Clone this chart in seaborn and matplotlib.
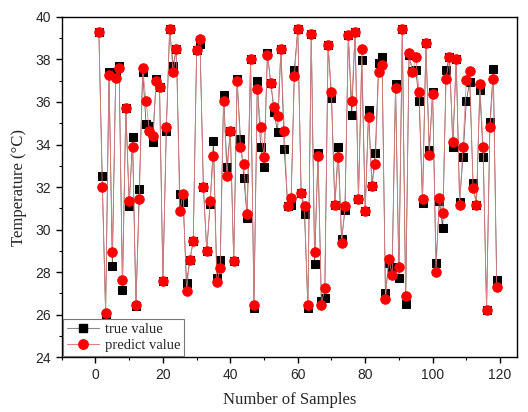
import numpy as np
import pandas as pd
import matplotlib
matplotlib.use("Agg")
import matplotlib.pyplot as plt
import seaborn as sns
from matplotlib.lines import Line2D

samples = list(range(1, 120))
true_value = [
    39.28, 32.52, 26.00, 37.40, 28.28, 37.40, 37.71, 27.16, 35.72, 31.11,
    34.36, 26.40, 31.92, 37.43, 34.96, 34.88, 34.14, 37.08, 36.72, 27.57,
    34.65, 39.44, 37.71, 38.50, 31.66, 31.31, 27.49, 28.59, 29.46, 38.45,
    38.73, 32.02, 28.99, 31.19, 34.17, 27.73, 28.55, 36.34, 32.92, 34.65,
    28.51, 37.08, 34.25, 32.44, 30.53, 38.03, 26.30, 36.97, 33.86, 32.92,
    38.29, 36.88, 35.51, 34.57, 38.50, 33.78, 31.11, 31.15, 37.51, 39.44,
    31.74, 30.72, 26.30, 39.21, 28.36, 33.62, 26.65, 26.78, 38.69, 36.18,
    31.14, 33.86, 29.54, 30.91, 39.13, 35.40, 39.28, 31.42, 37.98, 30.87,
    35.62, 32.05, 33.62, 37.81, 38.12, 27.01, 28.45, 28.26, 36.84, 27.71,
    39.45, 26.51, 38.20, 37.46, 37.50, 36.05, 31.26, 38.75, 33.74, 36.48,
    28.41, 31.35, 30.06, 37.50, 38.12, 33.90, 38.04, 31.31, 33.42, 36.05,
    36.95, 32.17, 31.16, 36.56, 33.42, 26.22, 35.07, 37.53, 27.63]
predict_value = [
    39.28, 32.02, 26.07, 37.27, 28.95, 37.11, 37.60, 27.63, 35.72, 31.34,
    33.86, 26.46, 31.42, 37.60, 36.03, 34.65, 34.41, 37.00, 36.72, 27.57,
    34.80, 39.44, 37.40, 38.50, 30.87, 31.69, 27.13, 28.59, 29.46, 38.45,
    38.97, 32.02, 28.99, 31.34, 33.47, 27.54, 28.20, 36.03, 32.52, 34.65,
    28.51, 36.97, 33.86, 33.07, 30.72, 38.03, 26.44, 36.61, 34.80, 33.39,
    38.22, 36.88, 35.75, 35.35, 38.50, 34.65, 31.11, 31.47, 37.24, 39.44,
    31.74, 31.11, 26.44, 39.21, 28.95, 33.47, 26.45, 27.26, 38.69, 36.45,
    31.14, 33.39, 29.35, 31.11, 39.13, 36.03, 39.28, 31.42, 38.50, 30.87,
    35.31, 32.05, 33.10, 37.42, 37.73, 26.73, 28.60, 27.87, 36.64, 28.26,
    39.45, 26.88, 38.28, 37.43, 38.10, 36.48, 31.42, 38.75, 33.50, 36.37,
    28.02, 31.47, 30.80, 37.07, 38.12, 34.13, 38.04, 31.16, 33.89, 37.03,
    37.46, 31.94, 31.16, 36.84, 33.89, 26.22, 34.80, 37.10, 27.29]
series_names = ["true value", "predict value"]
x_ticks = [0, 20, 40, 60, 80, 100, 120]
y_ticks = [24, 26, 28, 30, 32, 34, 36, 38, 40]

df = pd.DataFrame({
    "Sample": samples * 2,
    "Temperature": true_value + predict_value,
    "Series": [series_names[0]] * len(samples) + [series_names[1]] * len(samples),
})

sns.set_style("ticks")
plt.rcParams["font.family"] = ["Liberation Sans", "DejaVu Sans"]

fig = plt.figure(figsize=(5.28, 4.12), dpi=100)
ax = fig.add_axes([0.117, 0.133, 0.862, 0.826])

sns.lineplot(data=df, x="Sample", y="Temperature", hue="Series", style="Series",
             markers={"true value": "s", "predict value": "o"}, dashes=False,
             palette={"true value": "black", "predict value": "red"},
             linewidth=0.6, ax=ax, legend=False, sort=False)

SQ, CI = 6.0, 6.8
for ln in ax.get_lines():
    if ln.get_marker() == "s":
        ln.set_markersize(SQ)
        ln.set_markeredgecolor("black")
        ln.set_markerfacecolor("black")
        ln.set_color("#5a4a4a")
        ln.set_linewidth(0.55)
        ln.set_zorder(2)
    elif ln.get_marker() == "o":
        ln.set_markersize(CI)
        ln.set_markeredgecolor("red")
        ln.set_markerfacecolor("red")
        ln.set_color("#e08080")
        ln.set_linewidth(0.55)
        ln.set_zorder(3)

ax.set_xlim(-10, 125)
ax.set_ylim(24, 40)
ax.set_xticks(x_ticks)
ax.set_yticks(y_ticks)
ax.set_xticks(np.arange(-10, 126, 10), minor=True)
ax.set_yticks(np.arange(24, 40.1, 1), minor=True)
ax.tick_params(axis="both", which="major", direction="out", length=4.5, width=1,
               labelsize=10, top=False, right=False, color="black")
ax.tick_params(axis="both", which="minor", direction="out", length=2.5, width=0.8,
               top=False, right=False, color="black")
for sp in ax.spines.values():
    sp.set_visible(True)
    sp.set_color("black")
    sp.set_linewidth(1.0)

serif = ["Liberation Serif", "DejaVu Serif"]
ax.set_xlabel("Number of Samples", fontsize=12, family=serif, labelpad=7)
ax.set_ylabel("Temperature (\u00b0C)", fontsize=12, family=serif, labelpad=6)

handles = [
    Line2D([0], [0], color="#888888", lw=0.8, marker="s", markersize=SQ,
           markerfacecolor="black", markeredgecolor="black"),
    Line2D([0], [0], color="#e08080", lw=0.8, marker="o", markersize=CI,
           markerfacecolor="red", markeredgecolor="red"),
]
leg = ax.legend(handles, series_names, loc="lower left", bbox_to_anchor=(0.0, 0.0),
                prop={"family": serif, "size": 10.5}, frameon=True, fancybox=False,
                edgecolor="#777777", framealpha=1, borderpad=0.25, handlelength=2.2,
                handletextpad=0.4, labelspacing=0.2, borderaxespad=0.1)
leg.get_frame().set_linewidth(0.8)

fig.savefig("out.png", dpi=100, facecolor="white")
